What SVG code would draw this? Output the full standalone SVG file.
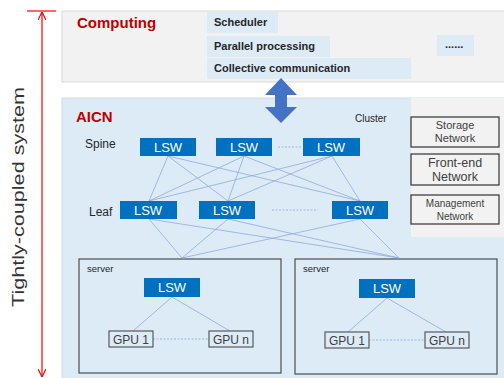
<svg xmlns="http://www.w3.org/2000/svg" width="504" height="378" viewBox="0 0 504 378">
<style>
text{font-family:"Liberation Sans","Noto Sans",Arial,sans-serif}
.lsw rect{fill:#0070c0}
.lsw text{fill:#fff;font-size:13px;text-anchor:middle}
.red{fill:#c00000;font-weight:bold;font-size:15px}
.tag rect{fill:#ddebf7}
.tag text{fill:#262626;font-weight:bold;font-size:11px}
.lbl{fill:#262626;font-size:12px}
.net rect{fill:#f2f2f2;stroke:#404040;stroke-width:1.3}
.net text{fill:#404040;text-anchor:middle}
.srv rect.box{fill:#ddebf7;stroke:#595959;stroke-width:1.3}
.gpu rect{fill:#ddebf7;stroke:#595959;stroke-width:1.2}
.gpu text{fill:#404040;font-size:12px;text-anchor:middle}
.ln{stroke:#8faadc;stroke-width:0.8;fill:none}
.dot{stroke:#8faadc;stroke-width:0.8;stroke-dasharray:2 1.5;fill:none}
</style>
<defs>
<marker id="oa" viewBox="0 0 10 10" refX="10" refY="5" markerWidth="8" markerHeight="8" orient="auto-start-reverse" markerUnits="userSpaceOnUse">
<path d="M0,0 L10,5 L0,10" fill="none" stroke="#ff0000" stroke-width="1.5"/>
</marker>
</defs>
<rect width="504" height="378" fill="#fff"/>

<g id="system-arrow">
<line x1="27" y1="11" x2="56" y2="11" stroke="#ff0000" stroke-width="1.2"/>
<line x1="42" y1="12" x2="42" y2="377" stroke="#ff0000" stroke-width="1.2" marker-start="url(#oa)" marker-end="url(#oa)"/>
<text transform="translate(24,197) rotate(-90)" text-anchor="middle" font-size="17" fill="#333" textLength="220" lengthAdjust="spacingAndGlyphs">Tightly-coupled system</text>
</g>

<g id="computing">
<rect x="62" y="11" width="450" height="71" fill="#f2f2f2" stroke="#d9d9d9" stroke-width="1"/>
<text class="red" x="77" y="28">Computing</text>
<g class="tag" id="scheduler"><rect x="207" y="12" width="71" height="21"/><text x="214" y="26">Scheduler</text></g>
<g class="tag" id="parallel"><rect x="207" y="36" width="123" height="21"/><text x="214" y="50">Parallel processing</text></g>
<g class="tag" id="collective"><rect x="207" y="58" width="204" height="21"/><text x="214" y="72">Collective communication</text></g>
<g class="tag" id="more"><rect x="437" y="35" width="37" height="21"/><text x="445" y="48" font-weight="normal" font-size="10">......</text></g>
</g>

<g id="aicn">
<rect x="62" y="98" width="450" height="290" fill="#ddebf7" stroke="#d0dbe6" stroke-width="1"/>
<rect x="411" y="98" width="93" height="139" fill="#f2f2f2"/>
<text class="red" x="76" y="122">AICN</text>
<text x="355" y="122" font-size="10" fill="#262626">Cluster</text>
<text class="lbl" x="85" y="148">Spine</text>
<text class="lbl" x="89" y="216">Leaf</text>
</g>

<g id="bidir-arrow">
<path d="M281,78 L297,95 L287,95 L287,107 L297,107 L281,123 L265,107 L275,107 L275,95 L265,95 Z" fill="#4472c4"/>
</g>

<g id="server1" class="srv">
<rect class="box" x="79" y="259" width="202" height="114"/>
<text x="87" y="272" font-size="9.5" fill="#262626">server</text>
</g>
<g id="server2" class="srv">
<rect class="box" x="295" y="259" width="202" height="115"/>
<text x="303" y="272" font-size="9.5" fill="#262626">server</text>
</g>

<g id="connectors">
<line class="ln" x1="168" y1="156" x2="149" y2="201"/>
<line class="ln" x1="168" y1="156" x2="228" y2="201"/>
<line class="ln" x1="168" y1="156" x2="360" y2="201"/>
<line class="ln" x1="244" y1="156" x2="149" y2="201"/>
<line class="ln" x1="244" y1="156" x2="228" y2="201"/>
<line class="ln" x1="244" y1="156" x2="360" y2="201"/>
<line class="ln" x1="332" y1="156" x2="149" y2="201"/>
<line class="ln" x1="332" y1="156" x2="228" y2="201"/>
<line class="ln" x1="332" y1="156" x2="360" y2="201"/>
<line class="ln" x1="149" y1="219" x2="182" y2="258"/>
<line class="ln" x1="149" y1="219" x2="399" y2="258"/>
<line class="ln" x1="228" y1="219" x2="182" y2="258"/>
<line class="ln" x1="228" y1="219" x2="399" y2="258"/>
<line class="ln" x1="360" y1="219" x2="182" y2="258"/>
<line class="ln" x1="360" y1="219" x2="399" y2="258"/>
<line class="dot" x1="278" y1="147" x2="302" y2="147"/>
<line class="dot" x1="272" y1="210" x2="318" y2="210"/>
<line class="ln" x1="172" y1="297" x2="133" y2="331"/>
<line class="ln" x1="172" y1="297" x2="230" y2="331"/>
<line class="ln" x1="387" y1="298" x2="348" y2="332"/>
<line class="ln" x1="387" y1="298" x2="446" y2="332"/>
<line class="dot" x1="153" y1="339" x2="209" y2="339"/>
<line class="dot" x1="369" y1="340" x2="425" y2="340"/>
</g>

<g id="spine1" class="lsw"><rect x="140" y="138" width="56" height="18"/><text x="168" y="152">LSW</text></g>
<g id="spine2" class="lsw"><rect x="216" y="138" width="56" height="18"/><text x="244" y="152">LSW</text></g>
<g id="spine3" class="lsw"><rect x="303" y="138" width="57" height="18"/><text x="331" y="152">LSW</text></g>
<g id="leaf1" class="lsw"><rect x="120" y="201" width="57" height="18"/><text x="148" y="215">LSW</text></g>
<g id="leaf2" class="lsw"><rect x="199" y="201" width="56" height="18"/><text x="227" y="215">LSW</text></g>
<g id="leaf3" class="lsw"><rect x="332" y="201" width="56" height="18"/><text x="360" y="215">LSW</text></g>

<g id="storage" class="net"><rect x="411" y="117" width="88" height="30"/><text x="455" y="129" font-size="11">Storage</text><text x="455" y="142" font-size="11">Network</text></g>
<g id="frontend" class="net"><rect x="411" y="154" width="88" height="31"/><text x="455" y="167" font-size="12.5">Front-end</text><text x="455" y="181" font-size="12.5">Network</text></g>
<g id="management" class="net"><rect x="411" y="195" width="88" height="29"/><text x="455" y="207" font-size="10">Management</text><text x="455" y="220" font-size="10">Network</text></g>

<g id="server1-lsw" class="lsw"><rect x="144" y="278" width="56" height="19"/><text x="172" y="292">LSW</text></g>
<g id="server1-gpu1" class="gpu"><rect x="109" y="331" width="44" height="16"/><text x="131" y="344">GPU 1</text></g>
<g id="server1-gpun" class="gpu"><rect x="209" y="331" width="44" height="16"/><text x="231" y="344">GPU n</text></g>
<g id="server2-lsw" class="lsw"><rect x="359" y="279" width="56" height="19"/><text x="387" y="293">LSW</text></g>
<g id="server2-gpu1" class="gpu"><rect x="325" y="332" width="44" height="16"/><text x="347" y="345">GPU 1</text></g>
<g id="server2-gpun" class="gpu"><rect x="425" y="332" width="44" height="16"/><text x="447" y="345">GPU n</text></g>
</svg>
